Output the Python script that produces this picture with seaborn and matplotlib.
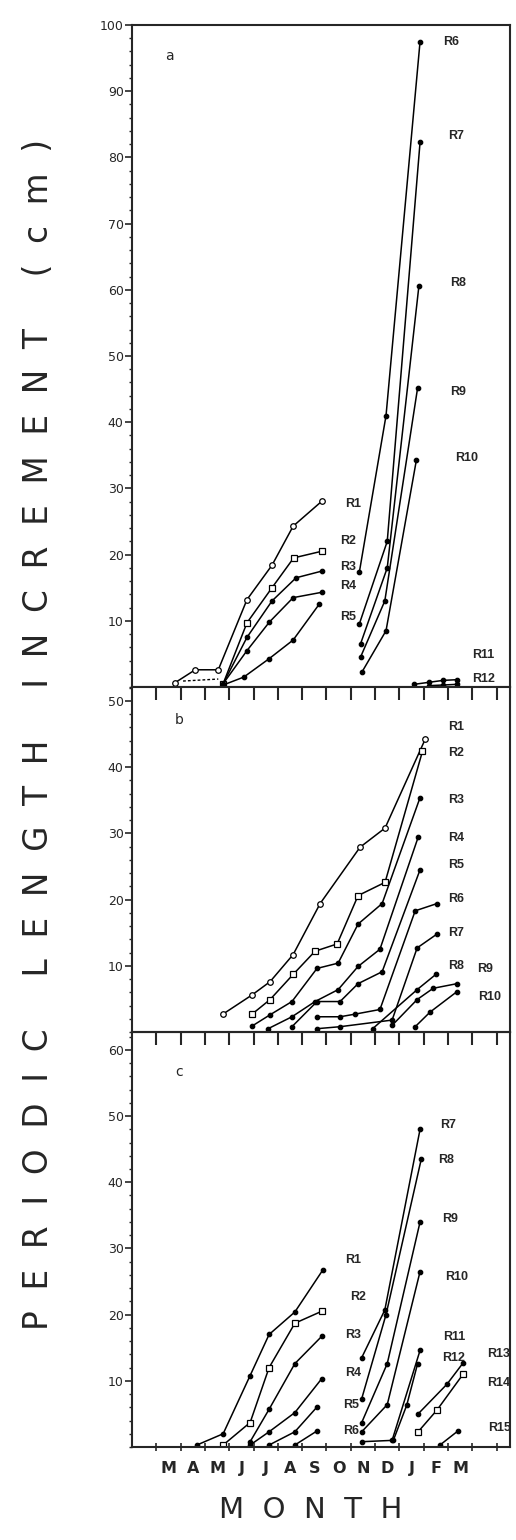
import numpy as np
import pandas as pd
import matplotlib
matplotlib.use("Agg")
import matplotlib.pyplot as plt
from matplotlib.ticker import MultipleLocator
import seaborn as sns

sns.set_style("ticks")
plt.rcParams["font.family"] = ["DejaVu Sans"]

# month axis: 1 = start of March, labels sit in the middle of each month
month_labels = ["M", "A", "M", "J", "J", "A", "S", "O", "N", "D", "J", "F", "M"]

# === Panel a ===
a_names = ["R1", "R2", "R3", "R4", "R5", "R6", "R7", "R8", "R9", "R10", "R11", "R12"]
a_x = [
    [1.75, 2.6, 3.55, 4.73, 5.76, 6.63, 7.82],
    [3.75, 4.73, 5.76, 6.65, 7.8],
    [3.75, 4.73, 5.76, 6.75, 7.8],
    [3.75, 4.73, 5.65, 6.63, 7.8],
    [3.75, 4.6, 5.65, 6.63, 7.7],
    [9.35, 10.45, 11.85],
    [9.35, 10.5, 11.85],
    [9.4, 10.5, 11.8],
    [9.4, 10.4, 11.75],
    [9.45, 10.45, 11.7],
    [11.6, 12.2, 12.8, 13.35],
    [12.2, 12.8, 13.35],
]
a_y = [
    [0.6, 2.6, 2.6, 13.2, 18.4, 24.3, 28.1],
    [0.5, 9.7, 15.0, 19.5, 20.5],
    [0.5, 7.5, 13.0, 16.5, 17.5],
    [0.5, 5.5, 9.8, 13.5, 14.3],
    [0.3, 1.5, 4.3, 7.1, 12.5],
    [17.3, 41.0, 97.5],
    [9.5, 22.0, 82.3],
    [6.5, 18.0, 60.5],
    [4.5, 13.0, 45.2],
    [2.2, 8.5, 34.3],
    [0.4, 0.7, 1.0, 1.1],
    [0.2, 0.3, 0.4],
]
a_dash_x = [2.1, 3.55]
a_dash_y = [0.9, 1.2]
a_lab_x = [8.77, 8.56, 8.56, 8.56, 8.56, 12.8, 13.0, 13.1, 13.1, 13.3, 14.0, 14.0]
a_lab_y = [27.6, 22.0, 18.1, 15.3, 10.5, 97.5, 83.3, 61.0, 44.5, 34.6, 4.8, 1.2]

# === Panel b ===
b_names = ["R1", "R2", "R3", "R4", "R5", "R6", "R7", "R8", "R9", "R10"]
b_x = [
    [3.74, 4.94, 5.68, 6.63, 7.74, 9.38, 10.41, 12.06],
    [4.94, 5.68, 6.63, 7.53, 8.44, 9.3, 10.41, 11.95],
    [4.94, 5.68, 6.58, 7.61, 8.48, 9.3, 10.29, 11.85],
    [5.6, 6.58, 7.53, 8.48, 9.3, 10.2, 11.77],
    [6.58, 7.61, 8.56, 9.3, 10.29, 11.85],
    [7.61, 8.56, 9.18, 10.2, 11.65, 12.55],
    [7.61, 8.56, 10.7, 11.73, 12.55],
    [9.9, 11.73, 12.5],
    [10.7, 11.73, 12.39, 13.37],
    [11.65, 12.26, 13.37],
]
b_y = [
    [2.7, 5.6, 7.6, 11.7, 19.4, 27.9, 30.8, 44.2],
    [2.7, 4.9, 8.7, 12.2, 13.3, 20.6, 22.6, 42.4],
    [0.9, 2.6, 4.6, 9.6, 10.4, 16.3, 19.4, 35.4],
    [0.5, 2.3, 4.6, 6.4, 9.9, 12.5, 29.4],
    [0.8, 4.6, 4.6, 7.3, 9.1, 24.5],
    [2.3, 2.3, 2.7, 3.4, 18.3, 19.4],
    [0.5, 0.8, 1.8, 12.7, 14.8],
    [0.5, 6.4, 8.7],
    [1.0, 4.9, 6.6, 7.3],
    [0.8, 3.0, 6.1],
]
b_lab_x = [13.0, 13.0, 13.0, 13.0, 13.0, 13.0, 13.0, 13.0, 14.2, 14.24]
b_lab_y = [46.0, 42.2, 35.0, 29.3, 25.2, 20.1, 15.0, 9.9, 9.5, 5.3]

# === Panel c ===
c_names = ["R1", "R2", "R3", "R4", "R5", "R6", "R7", "R8", "R9", "R10",
           "R11", "R12", "R13", "R14", "R15"]
c_x = [
    [2.67, 3.75, 4.86, 5.64, 6.7, 7.86],
    [3.75, 4.86, 5.64, 6.7, 7.8],
    [4.86, 5.64, 6.7, 7.8],
    [4.86, 5.64, 6.7, 7.8],
    [5.64, 6.7, 7.6],
    [6.7, 7.6],
    [9.45, 10.4, 11.85],
    [9.45, 10.45, 11.9],
    [9.45, 10.5, 11.85],
    [9.45, 10.5, 11.85],
    [9.45, 10.7, 11.85],
    [10.75, 11.3, 11.75],
    [11.77, 12.96, 13.62],
    [11.77, 12.55, 13.62],
    [12.67, 13.4],
]
c_y = [
    [0.3, 2.0, 10.8, 17.0, 20.4, 26.8],
    [0.3, 3.7, 12.0, 18.7, 20.5],
    [0.8, 5.7, 12.6, 16.7],
    [0.3, 2.3, 5.2, 10.3],
    [0.3, 2.3, 6.0],
    [0.3, 2.4],
    [13.5, 20.7, 48.0],
    [7.3, 20.0, 43.5],
    [3.7, 12.6, 34.0],
    [2.3, 6.4, 26.5],
    [0.8, 1.0, 14.6],
    [1.0, 6.3, 12.6],
    [5.0, 9.5, 12.7],
    [2.3, 5.6, 11.0],
    [0.3, 2.4],
]
c_lab_x = [8.77, 8.97, 8.77, 8.77, 8.68, 8.68, 12.67, 12.6, 12.76, 12.88,
           12.8, 12.76, 14.6, 14.6, 14.65]
c_lab_y = [28.3, 22.7, 16.9, 11.2, 6.3, 2.4, 48.7, 43.3, 34.5, 25.7,
           16.6, 13.4, 14.1, 9.6, 2.9]

open_circle = {("a", "R1"), ("b", "R1")}
open_square = {("a", "R2"), ("b", "R2"), ("c", "R2"), ("c", "R14")}


def draw_panel(ax, key, names, xs, ys, lab_x, lab_y):
    for name, x, y, lx, ly in zip(names, xs, ys, lab_x, lab_y):
        df = pd.DataFrame({"month": x, "cm": y})
        marker, face, ms = "o", "k", 3.2
        if (key, name) in open_circle:
            marker, face, ms = "o", "white", 4
        elif (key, name) in open_square:
            marker, face, ms = "s", "white", 4
        sns.lineplot(data=df, x="month", y="cm", ax=ax, sort=False, estimator=None,
                     color="k", linewidth=1.1, marker=marker, markersize=ms,
                     markerfacecolor=face, markeredgecolor="k", markeredgewidth=0.9)
        ax.text(lx, ly, name, fontsize=9, fontweight="bold", va="center", ha="left",
                family="Liberation Sans")
    ax.set_xlabel("")
    ax.set_ylabel("")


# === Figure and axes (pixel layout of the scan) ===
fig = plt.figure(figsize=(5.16, 15.4), dpi=100)
W, H = 516, 1540
left, right = 132, 510


def rect(top, bottom):
    return [left / W, 1 - bottom / H, (right - left) / W, (bottom - top) / H]


ax_a = fig.add_axes(rect(25, 687))
ax_b = fig.add_axes(rect(687, 1032))
ax_c = fig.add_axes(rect(1032, 1447))

draw_panel(ax_a, "a", a_names, a_x, a_y, a_lab_x, a_lab_y)
sns.lineplot(x=a_dash_x, y=a_dash_y, ax=ax_a, color="k", linewidth=1.0,
             linestyle=(0, (2, 1.5)), sort=False, estimator=None)
draw_panel(ax_b, "b", b_names, b_x, b_y, b_lab_x, b_lab_y)
draw_panel(ax_c, "c", c_names, c_x, c_y, c_lab_x, c_lab_y)

xmax = 15.55
for ax, ytop, yticks in [(ax_a, 100, range(10, 101, 10)),
                         (ax_b, 52.1, range(10, 51, 10)),
                         (ax_c, 62.7, range(10, 61, 10))]:
    ax.set_xlim(0, xmax)
    ax.set_ylim(0, ytop)
    ax.set_yticks(list(yticks))
    ax.yaxis.set_minor_locator(MultipleLocator(2))
    ax.tick_params(axis="y", which="major", direction="out", length=5, width=1.2,
                   labelsize=9, pad=1)
    ax.tick_params(axis="y", which="minor", direction="out", length=2.5, width=1)
    for sp in ax.spines.values():
        sp.set_linewidth(1.5)
        sp.set_visible(True)

ax_a.set_xticks([])

# panel b: ticks hang down from the top edge
ax_b.set_xticks(np.arange(1, 16))
ax_b.tick_params(axis="x", which="major", top=True, bottom=False, direction="in",
                 length=9, width=1.5, labeltop=False, labelbottom=False)

# panel c: top ticks inward, bottom short ticks plus month letters
ax_c.set_xticks(np.arange(1, 16))
ax_c.set_xticklabels([])
ax_c.set_xticks(np.arange(1.5, 14, 1), minor=True)
ax_c.set_xticklabels(month_labels, minor=True, fontsize=11.5, fontweight="bold")
ax_c.tick_params(axis="x", which="major", direction="inout", length=6, width=1.2)
ax_c.tick_params(axis="x", which="minor", length=0, pad=10)
top_c = ax_c.secondary_xaxis("top")
top_c.set_xticks(np.arange(1, 16))
top_c.tick_params(axis="x", direction="in", length=9, width=1.5, labeltop=False)

# panel letters
ax_a.text(1.36, 94.7, "a", fontsize=10)
ax_b.text(1.77, 46.5, "b", fontsize=10)
ax_c.text(1.77, 56.0, "c", fontsize=10)

ylab = ("P  E  R  I  O  D  I  C     L  E  N  G  T  H     "
        "I  N  C  R  E  M  E  N  T     (  c  m  )")
fig.text(0.074, 0.523, ylab, rotation=90, fontsize=23.5, ha="center", va="center")
fig.text(0.603, 0.0195, "M  O  N  T  H", fontsize=21, ha="center", va="center")

fig.savefig("out.png", dpi=100)
